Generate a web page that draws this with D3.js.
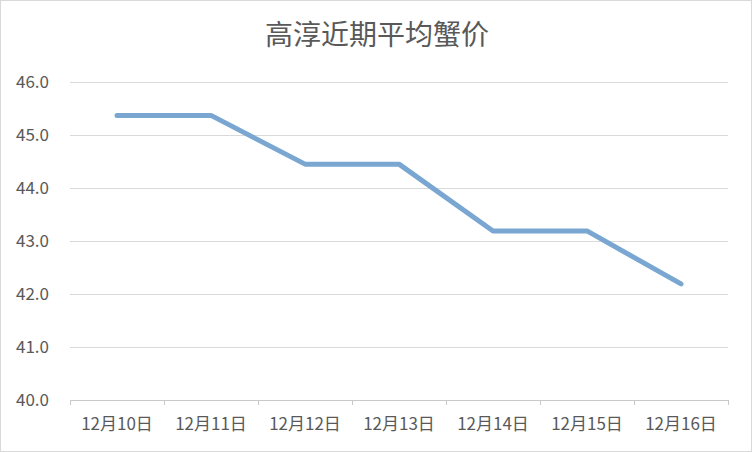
<!DOCTYPE html>
<html>
<head>
<meta charset="utf-8">
<script src="https://cdn.jsdelivr.net/npm/d3@7"></script>
<style>
  body { margin: 0; background: #fff; }
  svg text { font-family: "Noto Sans CJK SC", "Noto Sans", sans-serif; fill: #595959; }
</style>
</head>
<body>
<script>
const title = '高淳近期平均蟹价';
const dates = ['12月10日', '12月11日', '12月12日', '12月13日', '12月14日', '12月15日', '12月16日'];
const prices = [45.37, 45.37, 44.45, 44.45, 43.19, 43.19, 42.19];
const yTicks = [40, 41, 42, 43, 44, 45, 46];

const width = 752, height = 452;
const margin = { top: 82, right: 24, bottom: 52, left: 70 };

let svg = d3.select('body').append('svg')
  .attr('width', width)
  .attr('height', height);

// outer frame
svg.append('rect')
  .attr('x', 0.5).attr('y', 0.5)
  .attr('width', width - 1).attr('height', height - 1)
  .attr('fill', '#fff')
  .attr('stroke', '#d9d9d9');

svg.append('text')
  .attr('x', width / 2 + 1)
  .attr('y', 45)
  .attr('text-anchor', 'middle')
  .style('font-size', '28px')
  .text(title);

const x = d3.scaleBand()
  .domain(dates)
  .range([margin.left, width - margin.right]);

const y = d3.scaleLinear()
  .domain([40, 46])
  .range([height - margin.bottom, margin.top]);

// gridlines + y labels
let grid = svg.append('g');
grid.selectAll('line')
  .data(yTicks)
  .enter()
  .append('line')
  .attr('x1', margin.left)
  .attr('x2', width - margin.right)
  .attr('y1', (d) => Math.round(y(d)) + 0.5)
  .attr('y2', (d) => Math.round(y(d)) + 0.5)
  .attr('stroke', (d) => d === 40 ? '#c8c8c8' : '#d9d9d9')
  .attr('stroke-width', 1);

grid.selectAll('text')
  .data(yTicks)
  .enter()
  .append('text')
  .attr('x', 49)
  .attr('y', (d) => y(d) + 6)
  .attr('text-anchor', 'end')
  .style('font-size', '17px')
  .text((d) => d.toFixed(1));

// x tick marks at band boundaries
const bounds = dates.map((d) => x(d)).concat([width - margin.right]);
svg.append('g')
  .selectAll('line')
  .data(bounds)
  .enter()
  .append('line')
  .attr('x1', (d) => Math.round(d) + 0.5)
  .attr('x2', (d) => Math.round(d) + 0.5)
  .attr('y1', y(40))
  .attr('y2', y(40) + 5)
  .attr('stroke', '#c8c8c8');

svg.append('g')
  .selectAll('text')
  .data(dates)
  .enter()
  .append('text')
  .attr('x', (d) => x(d) + x.bandwidth() / 2)
  .attr('y', 430)
  .attr('text-anchor', 'middle')
  .style('font-size', '17px')
  .text((d) => d);

const line = d3.line()
  .x((d, i) => x(dates[i]) + x.bandwidth() / 2)
  .y((d) => y(d));

svg.append('path')
  .datum(prices)
  .attr('d', line)
  .attr('fill', 'none')
  .attr('stroke', '#7aa6d2')
  .attr('stroke-width', 5)
  .attr('stroke-linecap', 'round')
  .attr('stroke-linejoin', 'round');
</script>
</body>
</html>
